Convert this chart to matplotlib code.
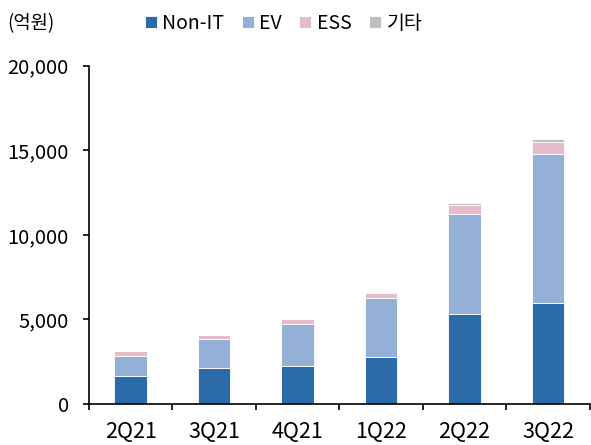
import matplotlib.pyplot as plt
import numpy as np
from matplotlib.ticker import FuncFormatter, FixedLocator

plt.rcParams['font.family'] = ['Noto Sans CJK KR', 'DejaVu Sans']

# 데이터 (억원)
quarters = ['2Q21', '3Q21', '4Q21', '1Q22', '2Q22', '3Q22']
non_it = [1673, 2145, 2224, 2775, 5333, 5963]
ev = [1181, 1712, 2519, 3483, 5904, 8817]
ess = [256, 197, 256, 276, 512, 708]
etc = [20, 20, 21, 78, 118, 158]

series = [('Non-IT', non_it, '#2B6CA8'), ('EV', ev, '#94B0D6'),
          ('ESS', ess, '#E5BCCB'), ('기타', etc, '#BFBFBF')]

fig = plt.figure(figsize=(5.91, 4.45), dpi=100)
ax = fig.add_axes([0.1506, 0.092, 0.847, 0.7606])

x = np.arange(len(quarters))
bottom = np.zeros(len(quarters))
handles = []
for name, vals, col in series:
    b = ax.bar(x, vals, 0.39, bottom=bottom, color=col, edgecolor='white',
               linewidth=0.6, label=name)
    handles.append(b)
    bottom += np.array(vals)

ax.set_xlim(-0.5, len(quarters) - 0.5)
ax.set_ylim(0, 20000)
ax.set_yticks([0, 5000, 10000, 15000, 20000])
ax.yaxis.set_major_formatter(FuncFormatter(lambda v, p: f'{int(v):,}'))
ax.set_xticks(x)
ax.set_xticklabels(quarters)
ax.xaxis.set_minor_locator(FixedLocator(np.arange(-0.5, len(quarters), 1)))
ax.tick_params(axis='x', which='major', length=0, labelsize=15.5, pad=12)
ax.tick_params(axis='x', which='minor', length=4.5, width=1.2, color='black')
ax.tick_params(axis='y', length=4.5, width=1.2, labelsize=14.5, pad=10)
for s in ['top', 'right']:
    ax.spines[s].set_visible(False)
for s in ['left', 'bottom']:
    ax.spines[s].set_linewidth(1.2)

fig.text(0.012, 0.948, '(억원)', fontsize=13.5, va='center')
fig.legend(handles=handles, loc='center', bbox_to_anchor=(0.48, 0.948), ncol=4,
           frameon=False, fontsize=14, handlelength=0.6, handleheight=0.6,
           handletextpad=0.3, columnspacing=0.9)

fig.savefig('out.png', dpi=100)
